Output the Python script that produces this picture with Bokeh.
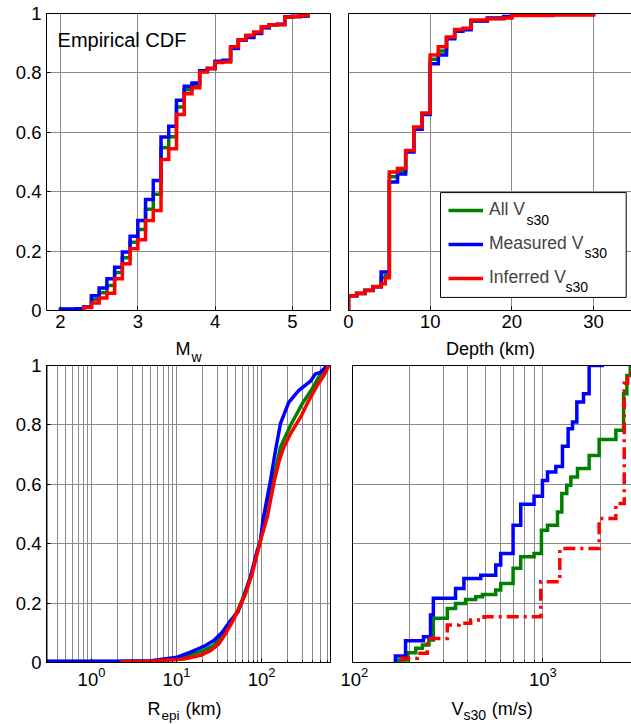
from bokeh.plotting import figure
from bokeh.layouts import column, row
from bokeh.models import (Range1d, FixedTicker, Label, BoxAnnotation, Legend,
                          LegendItem, LinearAxis)
from bokeh.embed import file_html
from bokeh.resources import INLINE

FONT = "Liberation Sans"
GREEN = "#008000"
BLUE = "#0000FF"
RED = "#FF0000"
GRID = "#8a8a8a"
LW = 3.5

# ---------------- data ----------------
CDF_TICKS = [0, 0.2, 0.4, 0.6, 0.8, 1]
CDF_TICK_LABELS = ["0", "0.2", "0.4", "0.6", "0.8", "1"]
MW_TICKS = [2, 3, 4, 5]
DEPTH_TICKS = [0, 10, 20, 30]
REPI_TICKS = [1, 10, 100]
VS30_TICKS = [100, 1000]

# Magnitude (step CDFs, value after each jump)
MW_X = [2.0, 2.1, 2.2, 2.3, 2.4, 2.5, 2.6, 2.7, 2.8, 2.9, 3.0, 3.1, 3.2, 3.3, 3.4,
        3.5, 3.6, 3.7, 3.8, 3.9, 4.0, 4.1, 4.2, 4.3, 4.4, 4.5, 4.6, 4.7, 4.8, 4.9,
        5.0, 5.1, 5.2]
MW_ALL = [0.003, 0.003, 0.004, 0.011, 0.038, 0.060, 0.084, 0.128, 0.178, 0.230,
          0.273, 0.341, 0.391, 0.548, 0.585, 0.685, 0.743, 0.759, 0.805, 0.815,
          0.837, 0.840, 0.885, 0.911, 0.923, 0.935, 0.953, 0.962, 0.963, 0.988,
          0.990, 0.992, 1.000]
MW_MEAS = [0.005, 0.005, 0.006, 0.012, 0.050, 0.076, 0.107, 0.146, 0.197, 0.250,
           0.303, 0.374, 0.438, 0.584, 0.620, 0.708, 0.755, 0.766, 0.807, 0.815,
           0.839, 0.843, 0.882, 0.910, 0.919, 0.933, 0.952, 0.962, 0.964, 0.989,
           0.990, 0.992, 1.000]
MW_INF_X = [2.3, 2.4, 2.5, 2.6, 2.7, 2.8, 2.9, 3.0, 3.1, 3.2, 3.3, 3.4, 3.5, 3.6,
            3.7, 3.8, 3.9, 4.0, 4.1, 4.2, 4.3, 4.4, 4.5, 4.6, 4.7, 4.8, 4.9, 5.0,
            5.1, 5.2]
MW_INF = [0.010, 0.025, 0.042, 0.058, 0.107, 0.157, 0.208, 0.238, 0.303, 0.337,
          0.508, 0.545, 0.660, 0.730, 0.750, 0.803, 0.815, 0.835, 0.837, 0.888,
          0.912, 0.927, 0.938, 0.955, 0.962, 0.962, 0.988, 0.990, 0.993, 1.000]

# Depth (km)
DEPTH_X = [0, 1, 2, 3, 4, 4.5, 5, 6, 7, 8, 9, 10, 11, 12, 13, 14, 15, 17, 19, 20, 25, 30]
DEPTH_ALL = [0.050, 0.057, 0.067, 0.080, 0.110, 0.118, 0.450, 0.470, 0.537, 0.614,
             0.662, 0.846, 0.874, 0.918, 0.943, 0.947, 0.976, 0.983, 0.987, 0.995,
             0.997, 1.000]
DEPTH_MEAS = [0.050, 0.057, 0.068, 0.080, 0.130, 0.130, 0.433, 0.460, 0.534, 0.610,
              0.660, 0.831, 0.860, 0.915, 0.940, 0.945, 0.975, 0.985, 0.990, 0.998,
              0.999, 1.000]
DEPTH_INF = [0.050, 0.058, 0.067, 0.081, 0.090, 0.110, 0.466, 0.478, 0.539, 0.618,
             0.665, 0.860, 0.888, 0.921, 0.946, 0.950, 0.978, 0.982, 0.985, 0.993,
             0.995, 1.000]

# Epicentral distance (km)
REPI_ALL_X = [0.25, 5.0, 10.2, 14.6, 21, 27.5, 34.5, 43.2, 52.7, 62, 74.3, 89, 97.3,
              106, 118, 146, 167, 219, 301, 395, 472, 566, 620]
REPI_ALL = [0.003, 0.004, 0.014, 0.026, 0.040, 0.058, 0.090, 0.135, 0.175, 0.225,
            0.290, 0.370, 0.410, 0.480, 0.550, 0.646, 0.725, 0.798, 0.871, 0.922,
            0.961, 0.994, 1.000]
REPI_MEAS_X = [0.25, 2.0, 5.0, 10.2, 14.6, 21, 27.5, 34.5, 43.2, 52.7, 62, 74.3, 89,
               97.3, 104, 127.6, 146, 167, 209, 275, 377, 432, 494, 593]
REPI_MEAS = [0.004, 0.004, 0.006, 0.018, 0.035, 0.054, 0.074, 0.102, 0.141, 0.170,
             0.220, 0.287, 0.377, 0.411, 0.480, 0.613, 0.714, 0.804, 0.876, 0.916,
             0.947, 0.972, 0.977, 1.000]
REPI_INF_X = [2.2, 4.9, 12.2, 19.2, 25.1, 31.5, 37.7, 45.2, 54, 64.8, 77.6, 89, 97.3,
              117, 141, 160, 180, 219, 288, 360, 452, 541, 620]
REPI_INF = [0.002, 0.004, 0.012, 0.024, 0.040, 0.063, 0.097, 0.136, 0.181, 0.231,
            0.299, 0.366, 0.411, 0.490, 0.610, 0.675, 0.720, 0.770, 0.826, 0.882,
            0.933, 0.966, 1.000]

# Vs30 (m/s)
VS_ALL_X = [175, 194, 215, 233, 252, 266, 315, 348, 393, 444, 482, 566, 601, 698, 766,
            900, 984, 1059, 1195, 1259, 1337, 1404, 1522, 1753, 1978, 2422, 2659,
            2767, 2881]
VS_ALL = [0.008, 0.033, 0.048, 0.059, 0.076, 0.149, 0.182, 0.199, 0.212, 0.221,
          0.229, 0.244, 0.266, 0.317, 0.356, 0.367, 0.445, 0.462, 0.507, 0.569,
          0.597, 0.625, 0.653, 0.697, 0.751, 0.782, 0.905, 0.966, 1.000]
VS_MEAS_X = [168, 190, 236, 257, 266, 348, 385, 472, 566, 601, 698, 766, 900, 996,
             1059, 1171, 1269, 1359, 1433, 1510, 1637, 1753, 2102]
VS_MEAS = [0.022, 0.073, 0.087, 0.160, 0.216, 0.249, 0.283, 0.294, 0.328, 0.367,
           0.462, 0.533, 0.560, 0.613, 0.641, 0.660, 0.728, 0.787, 0.810, 0.877,
           0.905, 1.000, 1.000]
VS_INF_X = [183, 219, 247, 315, 363, 418, 491, 976, 1229, 1978, 2422, 2679, 2791, 2905]
VS_INF = [0.014, 0.031, 0.081, 0.126, 0.132, 0.143, 0.154, 0.272, 0.384, 0.485,
          0.535, 0.940, 0.972, 1.000]

LOG_MINOR_REPI = [m * 10.0 ** k for k in range(-1, 3) for m in range(2, 10)]
LOG_MINOR_VS = [m * 10.0 ** k for k in range(2, 4) for m in range(2, 10)]


def base_fig(width, height, xr, x_type, x_ticker, left, right, top, bottom,
             show_ylabels=True):
    p = figure(width=width, height=height, x_range=xr, y_range=Range1d(0, 1),
               x_axis_type=x_type, output_backend="svg", toolbar_location=None,
               title=None, min_border_left=left, min_border_right=right,
               min_border_top=top, min_border_bottom=bottom)
    p.background_fill_color = "white"
    p.border_fill_color = "white"
    p.outline_line_color = "black"
    p.outline_line_width = 1
    p.grid.grid_line_color = GRID
    p.grid.grid_line_width = 1
    xa = p.below[0]
    ya = p.left[0]
    xa.ticker = x_ticker
    for ax in (xa, ya):
        ax.axis_line_color = "black"
        ax.major_tick_line_color = "black"
        ax.minor_tick_line_color = "black"
        ax.major_tick_in = 4
        ax.major_tick_out = 0
        ax.minor_tick_in = 2
        ax.minor_tick_out = 0
        ax.major_label_text_font = FONT
        ax.major_label_text_font_size = "18.5px"
        ax.major_label_text_color = "black"
    xa.major_label_standoff = 4
    ya.minor_tick_line_color = None
    p.ygrid.ticker = FixedTicker(ticks=CDF_TICKS)
    if show_ylabels:
        ya.ticker = FixedTicker(ticks=CDF_TICKS)
        ya.major_label_standoff = 5
        ya.major_label_overrides = {t: s for t, s in zip(CDF_TICKS, CDF_TICK_LABELS)}
    else:
        # frame border drawn by tick-less axes on left, bottom and top only
        ya.ticker = FixedTicker(ticks=[])
        ya.major_tick_in = 0
        ya.major_label_standoff = 0
        p.outline_line_color = None
        top_axis = LinearAxis(ticker=FixedTicker(ticks=[]), axis_line_color="black",
                              major_tick_in=0, major_tick_out=0,
                              minor_tick_in=0, minor_tick_out=0,
                              major_label_standoff=0,
                              major_tick_line_color=None, minor_tick_line_color=None)
        p.add_layout(top_axis, "above")
    return p


def strip(parent, width, height, left, right, x_type):
    s = figure(width=width, height=height, x_range=parent.x_range,
               y_range=Range1d(0, height), x_axis_type=x_type,
               x_axis_location=None, y_axis_location=None,
               output_backend="svg", toolbar_location=None, title=None,
               min_border_left=left, min_border_right=right,
               min_border_top=0, min_border_bottom=0)
    s.outline_line_color = None
    s.background_fill_color = "white"
    s.border_fill_color = "white"
    s.grid.visible = False
    return s


def add_label(p, x, y, text, size, align="left", x_offset=0):
    p.add_layout(Label(x=x, y=y, text=text, text_font=FONT, text_font_size=size,
                       text_align=align, text_baseline="middle",
                       text_color="black", x_offset=x_offset))


def step_cdf(p, xs, ys, color, dash="solid"):
    return p.step([xs[0]] + list(xs), [0] + list(ys), mode="after", line_color=color,
                  line_width=LW, line_join="miter", line_dash=dash)


# ---------- panel 1: Mw ----------
p1 = base_fig(340, 336, Range1d(1.819, 5.492), "linear", FixedTicker(ticks=MW_TICKS),
              46, 10, 13, 26)
step_cdf(p1, MW_X, MW_ALL, GREEN)
step_cdf(p1, MW_X, MW_MEAS, BLUE)
step_cdf(p1, MW_INF_X, MW_INF, RED)
add_label(p1, 1.962, 0.911, "Empirical CDF", "20px")

# ---------- panel 2: depth ----------
p2 = base_fig(291, 336, Range1d(0, 34.65), "linear", FixedTicker(ticks=DEPTH_TICKS),
              8, 0, 13, 26, show_ylabels=False)
g2 = step_cdf(p2, DEPTH_X, DEPTH_ALL, GREEN)
b2 = step_cdf(p2, DEPTH_X, DEPTH_MEAS, BLUE)
r2 = step_cdf(p2, DEPTH_X, DEPTH_INF, RED)
gdot = p2.scatter(x=[], y=[], size=5, color=GREEN)
rdot = p2.scatter(x=[], y=[], size=5, color=RED)
p2.add_layout(BoxAnnotation(left=11.27, right=34.0, bottom=0.044, top=0.397,
                            fill_color="white", fill_alpha=1.0,
                            line_color="black", line_width=1, line_alpha=1.0))
legend = Legend(items=[LegendItem(label="All V", renderers=[g2, gdot]),
                       LegendItem(label="Measured V", renderers=[b2]),
                       LegendItem(label="Inferred V", renderers=[r2, rdot])],
                location=(100, 22), border_line_color=None,
                background_fill_alpha=0.0, padding=0, margin=0, spacing=13,
                glyph_width=35, glyph_height=20, label_height=20, label_standoff=6,
                label_text_font=FONT, label_text_font_size="17.5px")
p2.add_layout(legend)
add_label(p2, 21.80, 0.306, "s30", "14px")
add_label(p2, 28.90, 0.195, "s30", "14px")
add_label(p2, 26.57, 0.0805, "s30", "14px")

# ---------- axis-title strips under the top row ----------
S1H = 30
s1 = strip(p1, 340, S1H, 46, 10, "linear")
add_label(s1, 3.681, 18.0, "M", "18px", "right")
add_label(s1, 3.681, 9.9, "w", "14px", "left", 1)
s2 = strip(p2, 291, S1H, 8, 0, "linear")
add_label(s2, 17.39, 18.0, "Depth (km)", "18px", "center")

# ---------- panel 3: Repi ----------
p3 = base_fig(340, 345, Range1d(0.2955, 648), "log",
              FixedTicker(ticks=REPI_TICKS, minor_ticks=LOG_MINOR_REPI),
              46, 10, 14, 34)
p3.xgrid.minor_grid_line_color = GRID
p3.xgrid.minor_grid_line_width = 1
p3.border_fill_alpha = 0.0
p3.line(REPI_ALL_X, REPI_ALL, line_color=GREEN, line_width=LW, line_join="round")
p3.line(REPI_MEAS_X, REPI_MEAS, line_color=BLUE, line_width=LW, line_join="round")
p3.line(REPI_INF_X, REPI_INF, line_color=RED, line_width=LW, line_join="round")

# ---------- panel 4: Vs30 ----------
p4 = base_fig(291, 345, Range1d(100, 2926), "log",
              FixedTicker(ticks=VS30_TICKS, minor_ticks=LOG_MINOR_VS),
              12, 0, 14, 34, show_ylabels=False)
p4.xgrid.minor_grid_line_color = GRID
p4.xgrid.minor_grid_line_width = 1
p4.border_fill_alpha = 0.0
step_cdf(p4, VS_ALL_X, VS_ALL, GREEN)
step_cdf(p4, VS_MEAS_X, VS_MEAS, BLUE)
step_cdf(p4, VS_INF_X, VS_INF, RED, dash="12 5 3 5")

# ---------- axis-title strips under the bottom row ----------
s3 = strip(p3, 340, 28, 46, 10, "log")
add_label(s3, 6.48, 16.0, "R", "18px", "right")
add_label(s3, 6.48, 9.4, "epi", "13.5px", "left", 1)
add_label(s3, 12.76, 16.0, "(km)", "18px")
s4 = strip(p4, 291, 28, 12, 0, "log")
add_label(s4, 383, 16.0, "V", "18px", "right")
add_label(s4, 383, 9.4, "s30", "14px", "left", 0)
add_label(s4, 540, 16.0, "(m/s)", "18px")

# the bottom row overlaps the strip above by 15 px (transparent border),
# so the top tick label of the lower panels is not cut
bottom_row = row(p3, p4, margin=(-15, 0, 0, 0))
layout = column(row(p1, p2), row(s1, s2), bottom_row, row(s3, s4))
open("out.html", "w").write(file_html(layout, INLINE))
